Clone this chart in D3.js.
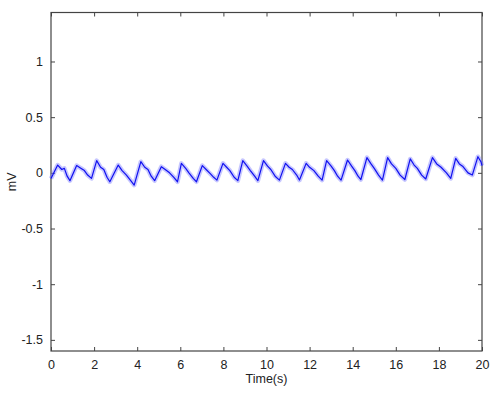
<!DOCTYPE html>
<html>
<head>
<meta charset="utf-8">
<script src="https://cdn.jsdelivr.net/npm/d3@7"></script>
<style>
  html, body { margin: 0; padding: 0; background: #fff; }
  svg { display: block; font-family: "Liberation Sans", Arial, sans-serif; }
</style>
</head>
<body>
<svg id="chart" width="500" height="395"></svg>
<script>
// ---- data ----
const timeS = [
  0.0, 0.31, 0.5, 0.62, 0.75, 0.88,
  1.19, 1.4, 1.55, 1.7, 1.88,
  2.12, 2.3, 2.45, 2.6, 2.73,
  3.12, 3.3, 3.5, 3.7, 3.86,
  4.17, 4.35, 4.5, 4.65, 4.81,
  5.12, 5.3, 5.5, 5.7, 5.87,
  6.05, 6.25, 6.4, 6.6, 6.75,
  7.02, 7.2, 7.4, 7.55, 7.7,
  7.98, 8.15, 8.3, 8.5, 8.67,
  8.9, 9.1, 9.25, 9.45, 9.6,
  9.86, 10.05, 10.2, 10.4, 10.6,
  10.88, 11.05, 11.2, 11.4, 11.53,
  11.84, 12.0, 12.2, 12.4, 12.58,
  12.79, 13.0, 13.15, 13.3, 13.46,
  13.76, 13.95, 14.1, 14.25, 14.38,
  14.66, 14.85, 15.0, 15.2, 15.38,
  15.62, 15.8, 16.0, 16.2, 16.42,
  16.67, 16.85, 17.0, 17.2, 17.39,
  17.7, 17.9, 18.1, 18.35, 18.55,
  18.78, 18.95, 19.1, 19.35, 19.55,
  19.81, 19.95, 20.0
];
const voltageMV = [
  -0.05, 0.07, 0.03, 0.04, -0.03, -0.07,
  0.065, 0.04, 0.02, -0.02, -0.05,
  0.11, 0.05, 0.03, -0.04, -0.08,
  0.07, 0.02, -0.02, -0.07, -0.11,
  0.10, 0.05, 0.03, -0.03, -0.07,
  0.055, 0.03, 0.0, -0.04, -0.08,
  0.085, 0.04, 0.0, -0.05, -0.08,
  0.065, 0.03, -0.01, -0.04, -0.065,
  0.085, 0.05, 0.02, -0.04, -0.07,
  0.11, 0.06, 0.02, -0.03, -0.07,
  0.11, 0.06, 0.03, -0.03, -0.065,
  0.085, 0.05, 0.03, -0.02, -0.065,
  0.085, 0.05, 0.02, -0.03, -0.065,
  0.11, 0.06, 0.02, -0.03, -0.065,
  0.115, 0.06, 0.02, -0.03, -0.06,
  0.137, 0.08, 0.04, -0.02, -0.065,
  0.137, 0.08, 0.04, -0.02, -0.06,
  0.125, 0.07, 0.04, -0.02, -0.055,
  0.137, 0.08, 0.05, 0.0, -0.05,
  0.13, 0.08, 0.06, 0.0, -0.02,
  0.145, 0.10, 0.065
];
const xTicks = [0, 2, 4, 6, 8, 10, 12, 14, 16, 18, 20];
const yTicks = [-1.5, -1, -0.5, 0, 0.5, 1];
const xDomain = [0, 20];
const yDomain = [-1.6, 1.44];

// ---- layout ----
const svg = d3.select("#chart");
const L = 51, R = 482, T = 12.5, B = 351;
const x = d3.scaleLinear().domain(xDomain).range([L, R]);
const y = d3.scaleLinear().domain(yDomain).range([B, T]);
const axisColor = "#444";
const fmt = d => String(d);

// bottom axis (ticks inward)
const gx = svg.append("g").attr("transform", `translate(0,${B})`)
  .call(d3.axisBottom(x).tickValues(xTicks).tickSize(-4).tickPadding(9).tickFormat(fmt));
// top axis
const gxt = svg.append("g").attr("transform", `translate(0,${T})`)
  .call(d3.axisTop(x).tickValues(xTicks).tickSize(-4).tickFormat(""));
// left axis
const gy = svg.append("g").attr("transform", `translate(${L},0)`)
  .call(d3.axisLeft(y).tickValues(yTicks).tickSize(-4).tickPadding(8).tickFormat(fmt));
// right axis
const gyr = svg.append("g").attr("transform", `translate(${R},0)`)
  .call(d3.axisRight(y).tickValues(yTicks).tickSize(-4).tickFormat(""));

[gx, gxt, gy, gyr].forEach(g => {
  g.select(".domain").remove();
  g.selectAll(".tick line").attr("stroke", axisColor).attr("stroke-width", 1);
  g.selectAll(".tick text").attr("fill", "#222").attr("font-size", 12.5)
    .attr("font-family", "Liberation Sans, Arial, sans-serif");
});

// box
svg.append("rect")
  .attr("x", L).attr("y", T).attr("width", R - L).attr("height", B - T)
  .attr("fill", "none").attr("stroke", axisColor).attr("stroke-width", 1.2);

// signal
const pts = timeS.map((t, i) => [t, voltageMV[i]]);
const line = d3.line().x(d => x(d[0])).y(d => y(d[1]));
svg.append("path").datum(pts).attr("d", line)
  .attr("fill", "none").attr("stroke", "#8080ff").attr("stroke-opacity", 0.45)
  .attr("stroke-width", 4.5).attr("stroke-linejoin", "round");
svg.append("path").datum(pts).attr("d", line)
  .attr("fill", "none").attr("stroke", "#1010f0")
  .attr("stroke-width", 1.2).attr("stroke-linejoin", "round");

// labels
svg.append("text").attr("x", (L + R) / 2).attr("y", 383)
  .attr("text-anchor", "middle").attr("font-size", 12.5).attr("fill", "#222")
  .text("Time(s)");
svg.append("text").attr("transform", `translate(16,${(T + B) / 2}) rotate(-90)`)
  .attr("text-anchor", "middle").attr("font-size", 12.5).attr("fill", "#222")
  .text("mV");
</script>
</body>
</html>
